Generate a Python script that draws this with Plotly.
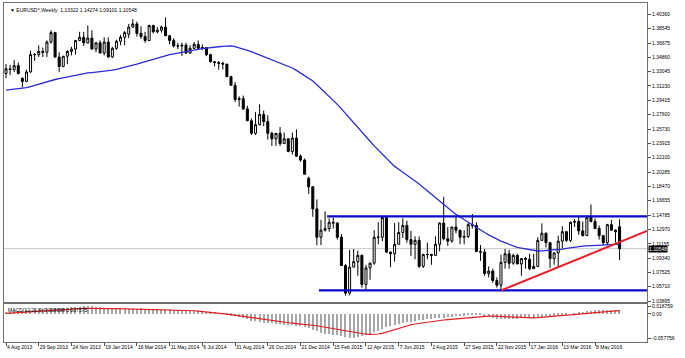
import plotly.graph_objects as go

# ---------------- data (weekly EURUSD, week starting 4 Aug 2013 .. 19 Jun 2016) ----------------
opens = [
    1.3280, 1.3340, 1.3330, 1.3380, 1.3220, 1.3180, 1.3300, 1.3520, 1.3520, 1.3560,
    1.3550, 1.3680, 1.3800, 1.3490, 1.3370, 1.3500, 1.3560, 1.3590, 1.3700, 1.3740,
    1.3670, 1.3730,
    1.3590, 1.3670, 1.3540, 1.3680, 1.3490, 1.3600, 1.3690, 1.3740, 1.3780, 1.3870,
    1.3910, 1.3790, 1.3750, 1.3700, 1.3890, 1.3810, 1.3830, 1.3870, 1.3760, 1.3700,
    1.3630, 1.3630, 1.3640, 1.3540, 1.3600, 1.3650, 1.3600, 1.3610, 1.3520, 1.3430,
    1.3420, 1.3410, 1.3400, 1.3240, 1.3130, 1.2950, 1.2960, 1.2830, 1.2680, 1.2520,
    1.2630, 1.2760, 1.2670, 1.2520, 1.2450, 1.2520, 1.2390, 1.2450, 1.2290, 1.2460,
    1.2230, 1.2180,
    1.1950, 1.1840, 1.1560, 1.1200, 1.1290, 1.1310, 1.1390, 1.1380, 1.1200, 1.0840,
    1.0490, 1.0820, 1.0890, 1.0970, 1.0600, 1.0810, 1.0870, 1.1200, 1.1200, 1.1450,
    1.1010, 1.0990, 1.1110, 1.1260, 1.1350, 1.1170, 1.1110, 1.1160, 1.0830, 1.0980,
    1.0980, 1.0970, 1.1110, 1.1380, 1.1180, 1.1150, 1.1330, 1.1290, 1.1200, 1.1210,
    1.1360, 1.1350, 1.1020, 1.1010, 1.0740, 1.0770, 1.0650, 1.0590, 1.0880, 1.0990,
    1.0870, 1.0970,
    1.0860, 1.0930, 1.0920, 1.0800, 1.0830, 1.1160, 1.1250, 1.1130, 1.0930, 1.1000,
    1.1150, 1.1270, 1.1160, 1.1390, 1.1400, 1.1280, 1.1220, 1.1450, 1.1400, 1.1310,
    1.1220, 1.1130, 1.1360, 1.1290, 1.13322,
]
highs = [
    1.3400, 1.3390, 1.3450, 1.3420, 1.3230, 1.3330, 1.3570, 1.3540, 1.3640, 1.3610,
    1.3700, 1.3830, 1.3810, 1.3550, 1.3500, 1.3580, 1.3620, 1.3700, 1.3810, 1.3810,
    1.3890, 1.3830,
    1.3680, 1.3700, 1.3740, 1.3740, 1.3620, 1.3710, 1.3770, 1.3820, 1.3910, 1.3970,
    1.3940, 1.3880, 1.3810, 1.3900, 1.3900, 1.3870, 1.3890, 1.3993, 1.3770, 1.3730,
    1.3670, 1.3670, 1.3670, 1.3640, 1.3680, 1.3700, 1.3650, 1.3610, 1.3530, 1.3440,
    1.3440, 1.3430, 1.3400, 1.3250, 1.3170, 1.2990, 1.3000, 1.2870, 1.2710, 1.2790,
    1.2890, 1.2810, 1.2750, 1.2540, 1.2510, 1.2600, 1.2530, 1.2460, 1.2530, 1.2570,
    1.2250, 1.2200,
    1.1970, 1.1850, 1.1680, 1.1420, 1.1530, 1.1440, 1.1450, 1.1390, 1.1240, 1.0860,
    1.1040, 1.1050, 1.1030, 1.0980, 1.0850, 1.0880, 1.1290, 1.1390, 1.1467, 1.1450,
    1.1020, 1.1380, 1.1390, 1.1440, 1.1410, 1.1280, 1.1210, 1.1210, 1.0990, 1.1130,
    1.0990, 1.1210, 1.1390, 1.1714, 1.1330, 1.1330, 1.1460, 1.1290, 1.1290, 1.1380,
    1.1495, 1.1390, 1.1100, 1.1050, 1.0830, 1.0800, 1.0690, 1.0980, 1.1050, 1.1040,
    1.0990, 1.0990,
    1.0930, 1.0950, 1.0990, 1.0990, 1.1200, 1.1376, 1.1260, 1.1140, 1.1010, 1.1220,
    1.1340, 1.1280, 1.1400, 1.1430, 1.1460, 1.1400, 1.1460, 1.1616, 1.1440, 1.1350,
    1.1230, 1.1370, 1.1420, 1.1300, 1.14274,
]
lows = [
    1.3220, 1.3260, 1.3300, 1.3270, 1.3105, 1.3170, 1.3290, 1.3440, 1.3490, 1.3490,
    1.3490, 1.3660, 1.3480, 1.3296, 1.3360, 1.3400, 1.3510, 1.3520, 1.3690, 1.3630,
    1.3660, 1.3590,
    1.3550, 1.3540, 1.3510, 1.3480, 1.3477, 1.3580, 1.3640, 1.3640, 1.3730, 1.3860,
    1.3750, 1.3720, 1.3670, 1.3690, 1.3790, 1.3790, 1.3800, 1.3760, 1.3650, 1.3610,
    1.3590, 1.3503, 1.3530, 1.3530, 1.3590, 1.3590, 1.3580, 1.3500, 1.3420, 1.3370,
    1.3330, 1.3330, 1.3240, 1.3130, 1.2920, 1.2860, 1.2820, 1.2680, 1.2500, 1.2500,
    1.2620, 1.2610, 1.2440, 1.2360, 1.2360, 1.2360, 1.2400, 1.2280, 1.2250, 1.2220,
    1.2160, 1.2000,
    1.1750, 1.1460, 1.1098, 1.1100, 1.1270, 1.1270, 1.1310, 1.1170, 1.0840, 1.0460,
    1.0462, 1.0820, 1.0710, 1.0560, 1.0520, 1.0660, 1.0850, 1.1110, 1.1150, 1.1010,
    1.0820, 1.0890, 1.1110, 1.1190, 1.1130, 1.0960, 1.0920, 1.0810, 1.0810, 1.0920,
    1.0850, 1.0960, 1.1020, 1.1160, 1.1090, 1.1130, 1.1250, 1.1110, 1.1110, 1.1190,
    1.1310, 1.1010, 1.0900, 1.0710, 1.0690, 1.0620, 1.0560, 1.0524, 1.0800, 1.0800,
    1.0850, 1.0860,
    1.0710, 1.0800, 1.0780, 1.0810, 1.0820, 1.1160, 1.1070, 1.0810, 1.0850, 1.0820,
    1.1060, 1.1140, 1.1140, 1.1330, 1.1230, 1.1210, 1.1220, 1.1390, 1.1310, 1.1170,
    1.1100, 1.1100, 1.1280, 1.1130, 1.09101,
]
closes = [
    1.3340, 1.3330, 1.3380, 1.3280, 1.3180, 1.3300, 1.3520, 1.3520, 1.3560, 1.3550,
    1.3680, 1.3800, 1.3490, 1.3370, 1.3500, 1.3560, 1.3590, 1.3700, 1.3740, 1.3670,
    1.3730, 1.3590,
    1.3670, 1.3540, 1.3680, 1.3490, 1.3600, 1.3690, 1.3740, 1.3800, 1.3870, 1.3910,
    1.3790, 1.3750, 1.3700, 1.3890, 1.3810, 1.3830, 1.3870, 1.3760, 1.3700, 1.3630,
    1.3630, 1.3640, 1.3540, 1.3600, 1.3650, 1.3600, 1.3610, 1.3520, 1.3430, 1.3420,
    1.3410, 1.3400, 1.3240, 1.3130, 1.2950, 1.2960, 1.2830, 1.2680, 1.2520, 1.2630,
    1.2760, 1.2670, 1.2520, 1.2450, 1.2520, 1.2390, 1.2450, 1.2290, 1.2460, 1.2230,
    1.2180, 1.2000,
    1.1840, 1.1560, 1.1200, 1.1290, 1.1310, 1.1390, 1.1380, 1.1200, 1.0840, 1.0490,
    1.0820, 1.0890, 1.0970, 1.0600, 1.0810, 1.0870, 1.1200, 1.1200, 1.1450, 1.1010,
    1.0990, 1.1110, 1.1260, 1.1350, 1.1170, 1.1110, 1.1160, 1.0830, 1.0980, 1.0980,
    1.0970, 1.1110, 1.1380, 1.1180, 1.1150, 1.1330, 1.1290, 1.1200, 1.1210, 1.1360,
    1.1350, 1.1020, 1.1010, 1.0740, 1.0770, 1.0650, 1.0590, 1.0880, 1.0990, 1.0870,
    1.0970, 1.0860,
    1.0930, 1.0920, 1.0800, 1.0830, 1.1160, 1.1250, 1.1130, 1.0930, 1.1000, 1.1150,
    1.1270, 1.1160, 1.1390, 1.1400, 1.1280, 1.1220, 1.1450, 1.1400, 1.1310, 1.1220,
    1.1130, 1.1360, 1.1290, 1.1270, 1.10548,
]
moving_avg = [
    1.3070, 1.3075, 1.3082, 1.3088, 1.3094, 1.3100, 1.3115, 1.3130, 1.3145, 1.3162,
    1.3180, 1.3192, 1.3204, 1.3215, 1.3226, 1.3237, 1.3247, 1.3257, 1.3267, 1.3277,
    1.3287, 1.3292, 1.3297, 1.3302, 1.3307, 1.3312, 1.3322, 1.3333, 1.3345, 1.3356,
    1.3368, 1.3383, 1.3399, 1.3414, 1.3430, 1.3445, 1.3460, 1.3475, 1.3490, 1.3505,
    1.3520, 1.3530, 1.3541, 1.3551, 1.3562, 1.3572, 1.3580, 1.3588, 1.3596, 1.3604,
    1.3612, 1.3616, 1.3620, 1.3624, 1.3627, 1.3630, 1.3622, 1.3608, 1.3592, 1.3575,
    1.3557, 1.3537, 1.3517, 1.3496, 1.3476, 1.3455, 1.3434, 1.3413, 1.3392, 1.3371,
    1.3350, 1.3320, 1.3288, 1.3254, 1.3220, 1.3185, 1.3138, 1.3090, 1.3042, 1.2994,
    1.2945, 1.2888, 1.2831, 1.2774, 1.2717, 1.2660, 1.2600, 1.2540, 1.2480, 1.2420,
    1.2360, 1.2308, 1.2256, 1.2204, 1.2152, 1.2100, 1.2064, 1.2028, 1.1992, 1.1956,
    1.1920, 1.1876, 1.1832, 1.1788, 1.1744, 1.1700, 1.1658, 1.1616, 1.1574, 1.1532,
    1.1490, 1.1456, 1.1422, 1.1388, 1.1354, 1.1320, 1.1290, 1.1260, 1.1230, 1.1200,
    1.1170, 1.1150, 1.1130, 1.1110, 1.1090, 1.1070, 1.1061, 1.1052, 1.1043, 1.1034,
    1.1025, 1.1026, 1.1030, 1.1033, 1.1036, 1.1040, 1.1049, 1.1058, 1.1067, 1.1076,
    1.1085, 1.1088, 1.1091, 1.1095, 1.1098, 1.1101, 1.1103, 1.1105, 1.1107, 1.1109,
    1.1110,
]
macd_main = [
    0.004, 0.005, 0.006, 0.006, 0.007, 0.008, 0.009, 0.010, 0.011, 0.012,
    0.013, 0.014, 0.015, 0.014, 0.014, 0.015, 0.016, 0.016, 0.017, 0.018,
    0.0188, 0.018, 0.017, 0.016, 0.015, 0.013, 0.012, 0.012, 0.011, 0.011,
    0.011, 0.012, 0.012, 0.013, 0.012, 0.011, 0.011, 0.011, 0.011, 0.012,
    0.011, 0.010, 0.009, 0.008, 0.007, 0.007, 0.006, 0.006, 0.005, 0.004,
    0.003, 0.002, 0.001, 0.000, -0.002, -0.004, -0.006, -0.008, -0.011, -0.013,
    -0.016, -0.018, -0.020, -0.021, -0.022, -0.023, -0.024, -0.025, -0.026, -0.027,
    -0.027, -0.028, -0.029, -0.031, -0.034, -0.038, -0.042, -0.046, -0.048, -0.049,
    -0.050, -0.051, -0.053, -0.056, -0.0578, -0.057, -0.055, -0.052, -0.050, -0.048,
    -0.044, -0.040, -0.036, -0.032, -0.029, -0.026, -0.024, -0.022, -0.020, -0.019,
    -0.016, -0.015, -0.014, -0.013, -0.012, -0.011, -0.010, -0.009, -0.008, -0.007,
    -0.006, -0.005, -0.004, -0.003, -0.002, -0.002, -0.003, -0.005, -0.007, -0.009,
    -0.012, -0.013, -0.013, -0.013, -0.012, -0.012, -0.011, -0.011, -0.010, -0.009,
    -0.008, -0.007, -0.006, -0.005, -0.004, -0.003, -0.002, -0.001, 0.000, 0.001,
    0.003, 0.004, 0.006, 0.007, 0.008, 0.009, 0.009, 0.010, 0.010, 0.010,
    0.009,
]
macd_signal = [
    0.0010, 0.0017, 0.0025, 0.0032, 0.0040, 0.0047, 0.0054, 0.0060, 0.0068, 0.0075,
    0.0083, 0.0090, 0.0098, 0.0104, 0.0110, 0.0115, 0.0120, 0.0124, 0.0128, 0.0131,
    0.0133, 0.0134, 0.0134, 0.0133, 0.0131, 0.0129, 0.0126, 0.0123, 0.0121, 0.0119,
    0.0117, 0.0116, 0.0115, 0.0114, 0.0113, 0.0111, 0.0109, 0.0107, 0.0105, 0.0103,
    0.0100, 0.0097, 0.0094, 0.0090, 0.0086, 0.0080, 0.0074, 0.0067, 0.0059, 0.0050,
    0.0040, 0.0029, 0.0018, 0.0007, -0.0005, -0.0018, -0.0032, -0.0046, -0.0061, -0.0076,
    -0.0092, -0.0108, -0.0124, -0.0140, -0.0155, -0.0169, -0.0182, -0.0194, -0.0205, -0.0215,
    -0.0224, -0.0232, -0.0240, -0.0248, -0.0258, -0.0270, -0.0285, -0.0302, -0.0320, -0.0338,
    -0.0356, -0.0374, -0.0392, -0.0410, -0.0428, -0.0445, -0.0460, -0.0475, -0.0487, -0.0490,
    -0.0490, -0.0482, -0.0465, -0.0435, -0.0400, -0.0365, -0.0335, -0.0305, -0.0280, -0.0260,
    -0.0242, -0.0226, -0.0210, -0.0196, -0.0182, -0.0170, -0.0158, -0.0147, -0.0137, -0.0127,
    -0.0117, -0.0107, -0.0097, -0.0087, -0.0077, -0.0068, -0.0060, -0.0055, -0.0053, -0.0055,
    -0.0060, -0.0066, -0.0073, -0.0080, -0.0086, -0.0091, -0.0095, -0.0097, -0.0097, -0.0095,
    -0.0091, -0.0085, -0.0078, -0.0070, -0.0061, -0.0052, -0.0042, -0.0032, -0.0022, -0.0012,
    -0.0002, 0.0008, 0.0018, 0.0028, 0.0038, 0.0047, 0.0055, 0.0062, 0.0068, 0.0073,
    0.0076,
]

date_tick_index = [0, 8, 16, 24, 32, 40, 48, 56, 64, 72, 80, 88, 96, 104, 112, 120, 128, 136, 144]
date_tick_labels = ["4 Aug 2013", "29 Sep 2013", "24 Nov 2013", "19 Jan 2014", "16 Mar 2014",
                    "11 May 2014", "6 Jul 2014", "31 Aug 2014", "26 Oct 2014", "21 Dec 2014",
                    "15 Feb 2015", "12 Apr 2015", "7 Jun 2015", "2 Aug 2015", "27 Sep 2015",
                    "22 Nov 2015", "17 Jan 2016", "13 Mar 2016", "8 May 2016"]
price_ticks = [1.40360, 1.38545, 1.36675, 1.34860, 1.33045, 1.31230, 1.29415, 1.27600,
               1.25730, 1.23915, 1.22100, 1.20285, 1.18470, 1.16655, 1.14785, 1.12970,
               1.11155, 1.09340, 1.07525, 1.05710, 1.03895]
price_tick_labels = ["%.5f" % v for v in price_ticks]
macd_ticks = [0.018759, 0.0, -0.057756]
macd_tick_labels = ["0.018759", "0.00", "-0.057756"]

resistance_level = 1.1465
resistance_start = 78.5
support_level = 1.0525
support_start = 76.5
trend_start = (121, 1.0524)
trend_end = (156.7, 1.1279)
last_price = 1.10548
title_text = "\u25bc EURUSD^,Weekly  1.13322 1.14274 1.09101 1.10548"
macd_text = "MACD(12,26,9) 0.008698 0.007575"

# ---------------- figure ----------------
idx = list(range(len(closes)))
X0, X1 = -0.49, 156.7
FONT = "Liberation Sans"

fig = go.Figure()
fig.add_trace(go.Candlestick(
    x=idx, open=opens, high=highs, low=lows, close=closes,
    increasing=dict(line=dict(color="#000000", width=1), fillcolor="#ffffff"),
    decreasing=dict(line=dict(color="#000000", width=1), fillcolor="#000000"),
    whiskerwidth=0, xaxis="x", yaxis="y", showlegend=False, hoverinfo="skip"))
fig.add_trace(go.Scatter(x=idx, y=moving_avg, mode="lines",
                         line=dict(color="#2a2ad2", width=1.3), xaxis="x", yaxis="y",
                         showlegend=False, hoverinfo="skip"))
fig.add_trace(go.Bar(x=idx, y=macd_main, marker=dict(color="#a6a6a6", line=dict(width=0)),
                     width=0.3, xaxis="x2", yaxis="y2", showlegend=False, hoverinfo="skip"))
fig.add_trace(go.Scatter(x=idx, y=macd_signal, mode="lines",
                         line=dict(color="#e02020", width=1.2), xaxis="x2", yaxis="y2",
                         showlegend=False, hoverinfo="skip"))

shapes = [
    dict(type="line", xref="x", yref="y", x0=X0, x1=X1, y0=last_price, y1=last_price,
         line=dict(color="#c8c8c8", width=1), layer="below"),
    dict(type="line", xref="x", yref="y", x0=resistance_start, x1=X1,
         y0=resistance_level, y1=resistance_level, line=dict(color="#0a0ac8", width=2.2)),
    dict(type="line", xref="x", yref="y", x0=support_start, x1=X1,
         y0=support_level, y1=support_level, line=dict(color="#0a0ac8", width=2.2)),
    dict(type="line", xref="x", yref="y", x0=trend_start[0], x1=trend_end[0],
         y0=trend_start[1], y1=trend_end[1], line=dict(color="#e8202a", width=2)),
]

axis_common = dict(showgrid=False, zeroline=False, showline=True, linecolor="#707070",
                   linewidth=1, mirror=True, automargin=False)
fig.update_layout(
    width=685, height=358,
    margin=dict(l=4, r=38, t=3, b=16),
    paper_bgcolor="#ffffff", plot_bgcolor="#ffffff",
    font=dict(family=FONT, size=5, color="#000000"),
    bargap=0,
    xaxis=dict(domain=[0, 1], range=[X0, X1], anchor="y", showticklabels=False,
               rangeslider=dict(visible=False), ticks="", **axis_common),
    yaxis=dict(domain=[0.118, 1], range=[1.0377, 1.4176], side="right", anchor="x",
               tickvals=price_ticks, ticktext=price_tick_labels, ticks="outside",
               ticklen=3, tickcolor="#505050", tickfont=dict(size=5, family=FONT),
               **axis_common),
    xaxis2=dict(domain=[0, 1], range=[X0, X1], anchor="y2",
                tickvals=date_tick_index, ticktext=date_tick_labels, ticks="outside",
                ticklen=3, tickcolor="#505050", ticklabelposition="outside right",
                tickangle=0, tickfont=dict(size=5, family=FONT), **axis_common),
    yaxis2=dict(domain=[0, 0.112], range=[-0.0673, 0.0235], side="right", anchor="x2",
                tickvals=macd_ticks, ticktext=macd_tick_labels, ticks="outside",
                ticklen=3, tickcolor="#505050", tickfont=dict(size=5, family=FONT),
                **axis_common),
    shapes=shapes,
    annotations=[
        dict(text=title_text, xref="paper", yref="paper", x=0, y=1, xshift=4, yshift=-2,
             xanchor="left", yanchor="top", showarrow=False,
             font=dict(size=5, family=FONT, color="#000000")),
        dict(text=macd_text, xref="paper", yref="paper", x=0, y=0.112, xshift=2, yshift=-1,
             xanchor="left", yanchor="top", showarrow=False,
             font=dict(size=5, family=FONT, color="#000000")),
        dict(text="%.5f" % last_price, xref="paper", yref="y", x=1, y=last_price,
             xanchor="left", yanchor="middle", xshift=1, showarrow=False,
             bgcolor="#000000", borderpad=0,
             font=dict(size=5, family=FONT, color="#ffffff")),
    ],
)

fig.write_html("out.html", config={"displayModeBar": False},
               post_script="document.body.style.margin='0';document.body.style.overflow='hidden';")
